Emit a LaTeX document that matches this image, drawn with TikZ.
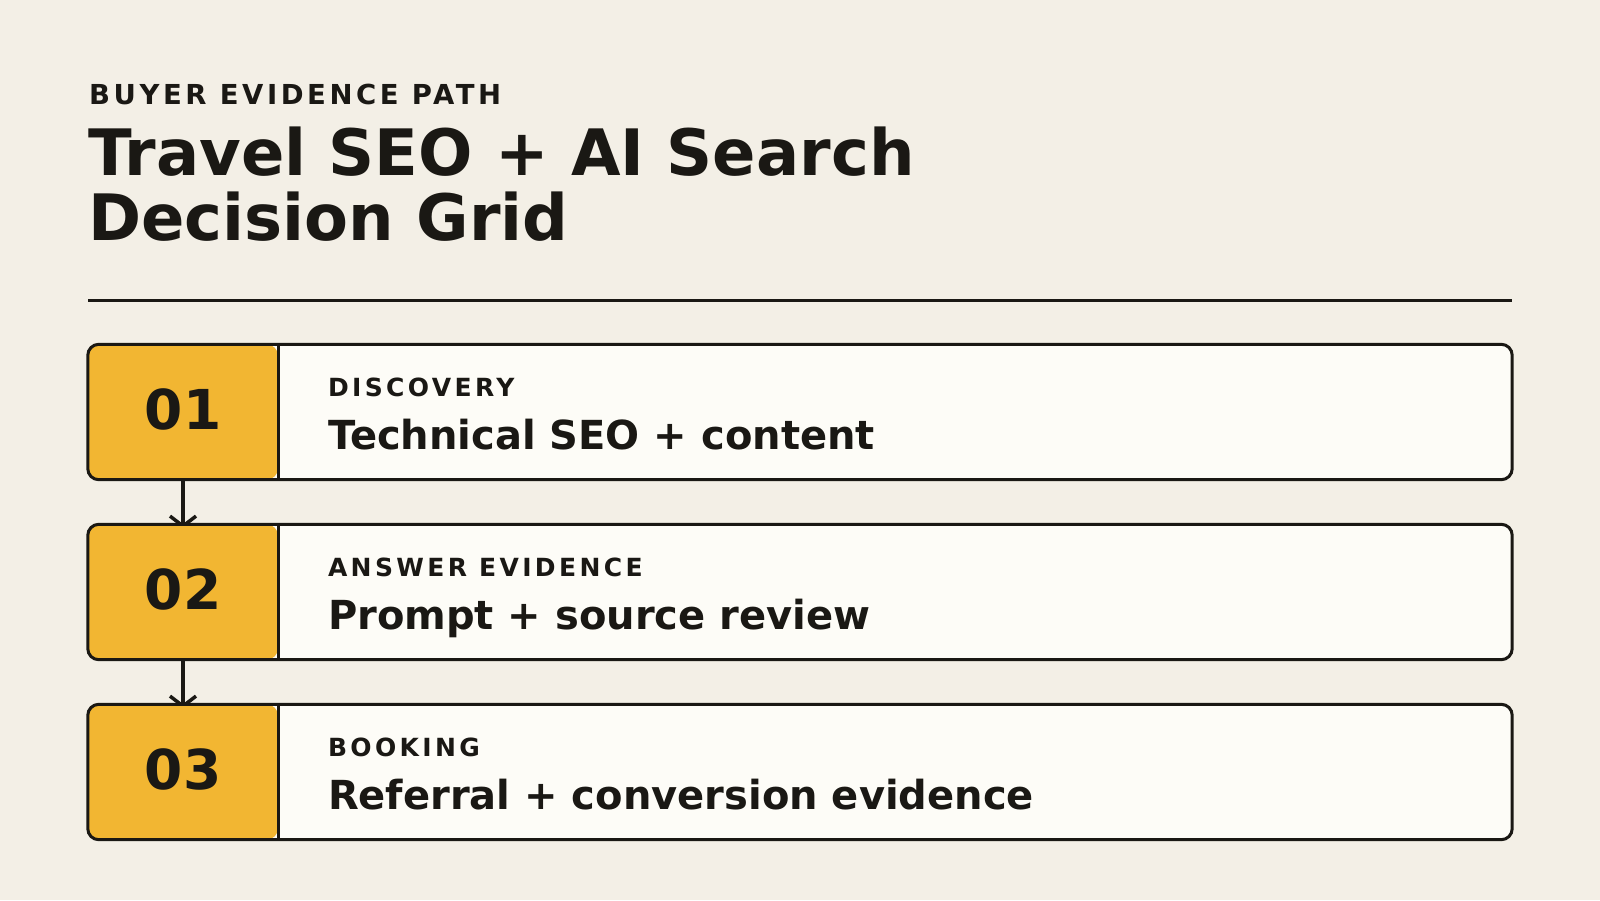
\documentclass[tikz,border=0pt]{standalone}
\usepackage{fontspec}
\setmainfont{DejaVu Sans}
\usetikzlibrary{arrows.meta,positioning}
\definecolor{paper}{HTML}{F3EFE6}
\definecolor{cardfill}{HTML}{FDFCF7}
\definecolor{ink}{HTML}{1A1814}
\definecolor{gold}{HTML}{F2B632}
\pgfdeclarelayer{back}
\pgfsetlayers{back,main}
\tikzset{
  card/.style={fill=cardfill, rounded corners=11pt,
    minimum width=1424pt, minimum height=135pt, inner sep=0pt},
  numbox/.style={fill=gold, rounded corners=11pt,
    minimum width=190pt, minimum height=135pt, inner sep=0pt},
  numtext/.style={text=ink, font=\fontsize{55}{55}\selectfont\bfseries},
  outline/.style={draw=ink, line width=3pt, rounded corners=11pt},
  kicker/.style={anchor=base west, inner sep=0pt, text=ink,
    font=\fontsize{25}{25}\selectfont\bfseries\addfontfeature{LetterSpace=13.5}},
  headline/.style={anchor=base west, inner sep=0pt, text=ink,
    font=\fontsize{40}{40}\selectfont\bfseries},
  flow/.style={-{Straight Barb[length=10pt,width=26pt]}, line width=3.5pt, draw=ink}
}
\begin{document}
\begin{tikzpicture}[x=1pt,y=-1pt]
  \begin{pgfonlayer}{back}
    \fill[paper] (0,0) rectangle (1600,900);
  \end{pgfonlayer}
  \useasboundingbox (0,0) rectangle (1600,900);
  % heading
  \node[anchor=base west, inner sep=0pt, text=ink,
    font=\fontsize{27.5}{27.5}\selectfont\bfseries\addfontfeature{LetterSpace=13}] (eyebrow) at (89,104) {BUYER EVIDENCE PATH};
  \node[anchor=base west, inner sep=0pt, text=ink,
    font=\fontsize{64}{64}\selectfont\bfseries] (title1) at (88,175) {Travel SEO + AI Search};
  \node[anchor=base west, inner sep=0pt, text=ink,
    font=\fontsize{64}{64}\selectfont\bfseries] (title2) at (88,240) {Decision Grid};
  \draw[ink, line width=3pt] (88,300) -- (1512,300);
  % steps
  \node[card] (s1) at (800,412) {};
  \node[card] (s2) at (800,592) {};
  \node[card] (s3) at (800,772) {};
  \node[numbox, anchor=west] (n1) at (s1.west) {};
  \node[numbox, anchor=west] (n2) at (s2.west) {};
  \node[numbox, anchor=west] (n3) at (s3.west) {};
  \draw[outline] (s1.north west) rectangle (s1.south east);
  \draw[outline] (s2.north west) rectangle (s2.south east);
  \draw[outline] (s3.north west) rectangle (s3.south east);
  \draw[ink, line width=3pt] (n1.north east) -- (n1.south east);
  \draw[ink, line width=3pt] (n2.north east) -- (n2.south east);
  \draw[ink, line width=3pt] (n3.north east) -- (n3.south east);
  \node[numtext] (num1) at ([yshift=3pt]n1.center) {01};
  \node[numtext] (num2) at ([yshift=3pt]n2.center) {02};
  \node[numtext] (num3) at ([yshift=3pt]n3.center) {03};
  \node[kicker] (k1) at ([xshift=240pt,yshift=15.3pt]s1.west) {DISCOVERY};
  \node[headline] (h1) at ([xshift=240pt,yshift=-37.3pt]s1.west) {Technical SEO + content};
  \node[kicker] (k2) at ([xshift=240pt,yshift=15.3pt]s2.west) {ANSWER EVIDENCE};
  \node[headline] (h2) at ([xshift=240pt,yshift=-37.3pt]s2.west) {Prompt + source review};
  \node[kicker] (k3) at ([xshift=240pt,yshift=15.3pt]s3.west) {BOOKING};
  \node[headline] (h3) at ([xshift=240pt,yshift=-37.3pt]s3.west) {Referral + conversion evidence};
  % arrows between steps
  \begin{pgfonlayer}{back}
    \draw[flow] (n1.south) -- ([yshift=-4pt]n2.north);
    \draw[flow] (n2.south) -- ([yshift=-4pt]n3.north);
  \end{pgfonlayer}
\end{tikzpicture}
\end{document}
